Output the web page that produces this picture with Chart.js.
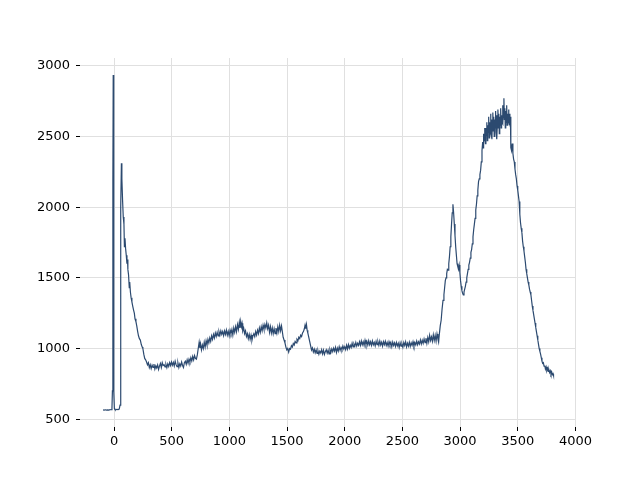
<!DOCTYPE html>
<html>
<head>
<meta charset="utf-8">
<script src="https://cdn.jsdelivr.net/npm/chart.js@4.4.0/dist/chart.umd.min.js"></script>
<style>
  html, body { margin: 0; padding: 0; background: #fff; }
</style>
</head>
<body>
<canvas id="spectrum" width="640" height="480"></canvas>
<script>
// raman shift (x) and intensity (y)
var ramanShift = [
  -95,-85,-75,-65,-55,-45,-35,-25,-18,
  -14,-10,-7,-4,-1,3,8,15,25,35,
  45,52,56,60,64,68,74,80,86,90,
  95,100,106,112,117,120,126,132,136,142,
  148,155,162,170,176,182,190,197,205,212,
  220,228,236,244,250,258,266,274,282,290,
  298,306,314,322,330,338,346,354,362,370,
  378,386,394,402,410,418,426,434,442,450,
  458,466,474,482,490,498,506,514,522,530,
  538,546,554,562,570,578,586,594,602,610,
  618,626,634,642,650,658,666,674,682,690,
  698,706,714,722,
  730,738,744,750,758,766,774,782,790,798,
  806,814,822,830,838,846,854,862,870,878,
  886,894,902,910,918,926,934,942,950,958,
  966,974,982,990,998,1006,1014,1022,1030,1038,
  1046,1054,1062,1070,1078,1086,1092,1098,1104,1110,
  1116,1124,1132,1140,1148,1156,1164,1172,1180,1188,
  1196,1204,1212,1220,1228,1236,1244,1252,1260,1268,
  1276,1284,1292,1300,1308,1316,1324,1332,1340,1348,
  1356,1364,1372,1380,1388,1396,1404,1412,1420,1428,
  1436,1444,1452,1460,
  1466,1474,1482,1490,1498,1506,1514,1522,1530,1538,
  1546,1554,1562,1570,1578,1586,1594,1602,1610,1618,
  1626,1634,1642,1650,1656,1662,1668,1674,1680,1688,
  1696,1704,1712,1720,1728,1736,1744,1752,1760,1768,
  1776,1784,1792,1800,1808,1816,1824,1832,1840,1848,
  1856,1864,1872,1880,1888,1896,1904,1912,1920,1928,
  1936,1944,1952,1960,1968,1976,1984,1992,2000,2008,
  2016,2024,2032,2040,2048,2056,2064,2072,2080,2088,
  2096,2104,2112,2120,2128,2136,2144,2152,2160,2168,
  2176,2184,2192,2200,2208,2216,2224,2232,2240,2248,
  2256,2264,2272,2280,2288,2296,2304,2312,2320,2328,
  2336,2344,2352,2360,2368,2376,2384,2392,2400,2408,
  2416,2424,2432,2440,2448,2456,2464,2472,2480,2488,
  2496,2504,2512,2520,2528,2536,2544,2552,2560,2568,
  2576,2584,2592,2600,2608,2616,2624,2632,2640,2648,
  2656,2664,2672,2680,2688,2696,2704,2712,2720,2728,
  2736,2744,2752,2760,2768,2776,2784,2792,2800,2808,
  2814,2820,2828,2836,2844,2852,2860,2866,2872,2878,
  2884,2890,2896,2902,2908,2914,2920,2926,2932,2938,
  2944,2950,2956,2962,2968,2974,2980,2986,2992,2998,
  3004,3010,3016,3022,3028,3034,3040,3046,3052,3058,
  3064,3070,3076,3082,3088,3094,3100,3106,3112,3118,
  3124,3130,3136,3142,3148,3154,3160,3166,3172,3178,
  3184,3190,3196,
  3200,3204,3208,3212,3216,3220,3224,3228,3232,3236,
  3240,3244,3248,3252,3256,3260,3264,3268,3272,3276,
  3280,3284,3288,3292,3296,3300,3304,3308,3312,3316,
  3320,3324,3328,3332,3336,3340,3344,3348,3352,3356,
  3360,3364,3368,3372,3376,3380,3384,3388,3392,3396,
  3400,3404,3408,3412,3416,3420,3424,3428,3432,3436,
  3440,3446,3452,3458,3464,3470,3476,3482,3488,3494,
  3500,3506,3512,3518,3524,3530,3536,3542,3548,3554,
  3560,3566,3572,3578,3584,3590,3596,3602,3608,3614,
  3620,3626,3632,3638,3644,3650,3656,3662,3668,3674,
  3680,3686,3692,3698,3704,3710,3716,3722,3728,3734,
  3740,3746,3752,3758,3764,3770,3776,3782,3788,3794,
  3800,3806,3810
];

var intensity = [
  566,564,567,565,566,564,568,567,575,
  700,2200,2935,2100,700,575,568,566,570,568,
  572,600,1200,2000,2310,2200,2050,1930,1880,1720,
  1780,1710,1660,1600,1630,1560,1520,1430,1470,1400,
  1360,1330,1300,1270,1250,1210,1190,1160,1120,1090,
  1070,1060,1030,1010,1000,960,930,920,905,885,
  900,865,885,858,882,866,890,855,878,862,
  884,852,876,895,866,900,880,885,870,888,
  865,892,874,900,880,905,882,902,876,910,
  886,872,898,866,892,876,905,880,866,900,
  910,888,920,896,925,905,935,912,945,920,
  950,930,925,955,
  1000,1045,1005,1035,990,1025,1000,1045,1010,1055,
  1025,1065,1040,1075,1050,1090,1065,1100,1075,1110,
  1085,1115,1090,1120,1095,1125,1100,1120,1092,1125,
  1100,1130,1095,1122,1090,1130,1105,1135,1095,1145,
  1115,1155,1120,1170,1135,1185,1145,1192,1155,1178,
  1125,1145,1105,1125,1085,1105,1070,1100,1065,1095,
  1060,1090,1105,1085,1120,1095,1130,1105,1145,1115,
  1155,1125,1165,1135,1170,1145,1182,1140,1165,1115,
  1155,1110,1145,1105,1140,1105,1145,1110,1155,1120,
  1165,1125,1160,1115,
  1080,1060,1040,1010,990,1000,975,1000,995,1020,
  1010,1035,1025,1050,1040,1065,1055,1080,1070,1095,
  1085,1110,1120,1140,1165,1140,1170,1130,1110,1080,
  1050,1020,990,1005,975,995,970,990,965,985,
  960,982,968,992,962,988,958,978,992,968,
  988,962,993,972,998,978,1003,982,1008,972,
  1003,982,1013,987,1008,992,1018,997,1013,992,
  1023,997,1028,1002,1023,1007,1038,1012,1033,1017,
  1043,1017,1038,1022,1048,1022,1053,1027,1048,1022,
  1058,1027,1051,1025,1055,1027,1048,1022,1053,1027,
  1043,1019,1051,1027,1048,1022,1053,1025,1045,1017,
  1048,1027,1051,1022,1043,1017,1048,1025,1043,1012,
  1045,1022,1041,1015,1043,1019,1038,1007,1041,1017,
  1033,1009,1043,1022,1048,1012,1038,1017,1045,1015,
  1041,1022,1048,1017,1043,1025,1053,1027,1048,1032,
  1061,1032,1058,1037,1068,1042,1073,1037,1078,1047,
  1093,1057,1083,1052,1098,1057,1093,1052,1103,1067,
  1045,1100,1160,1200,1280,1340,1380,1430,1480,1500,
  1530,1560,1555,1600,1650,1720,1790,1880,1960,2020,
  1960,1880,1800,1720,1660,1600,1580,1560,1590,1540,
  1480,1440,1410,1390,1380,1400,1420,1440,1470,1500,
  1530,1560,1590,1610,1640,1680,1700,1740,1790,1840,
  1880,1920,1980,2020,2080,2120,2180,2200,2230,2260,
  2320,2400,2460,
  2420,2520,2470,2560,2500,2450,2560,2510,2600,2470,
  2580,2530,2640,2490,2600,2540,2660,2520,2620,2480,
  2600,2670,2540,2640,2500,2620,2560,2680,2530,2650,
  2480,2600,2690,2560,2660,2520,2640,2580,2700,2560,
  2650,2600,2720,2590,2680,2770,2620,2700,2560,2680,
  2600,2720,2580,2660,2620,2690,2600,2660,2580,2640,
  2420,2400,2450,2380,2340,2320,2270,2230,2200,2150,
  2120,2080,2040,1950,1890,1850,1820,1760,1720,1690,
  1650,1610,1560,1530,1500,1470,1450,1420,1400,1380,
  1340,1300,1270,1240,1210,1180,1150,1120,1090,1060,
  1030,1000,980,960,935,910,895,900,875,880,
  855,870,845,860,838,850,830,842,820,835,
  815,822,810
];

var xTicks = [0, 500, 1000, 1500, 2000, 2500, 3000, 3500, 4000];
var yTicks = [500, 1000, 1500, 2000, 2500, 3000];

window.onload = main;

function main() {
    var points = ramanShift.map(function (x, i) {
        return { x: x, y: intensity[i] };
    });

    var tickFont = { family: "DejaVu Sans", size: 13 };
    var plain = function (value) { return String(value); };

    new Chart(document.getElementById("spectrum"), {
        type: "scatter",
        data: {
            datasets: [
                {
                    data: points,
                    showLine: true,
                    borderColor: "#2c4a70",
                    borderWidth: 1.2,
                    pointRadius: 0,
                    tension: 0
                }
            ]
        },
        options: {
            responsive: false,
            animation: false,
            devicePixelRatio: 1,
            layout: { padding: { top: 58, right: 64, left: 0, bottom: 0 } },
            plugins: {
                legend: { display: false },
                tooltip: { enabled: false }
            },
            scales: {
                x: {
                    type: "linear",
                    min: -295,
                    max: 4005,
                    afterBuildTicks: function (scale) {
                        scale.ticks = xTicks.map(function (v) { return { value: v }; });
                    },
                    afterFit: function (scale) { scale.height = 53; },
                    border: { display: false },
                    grid: { color: "#e0e0e0", lineWidth: 1, tickColor: "#000", tickLength: 4 },
                    ticks: { color: "#000", font: tickFont, padding: 3, maxRotation: 0, callback: plain }
                },
                y: {
                    type: "linear",
                    min: 445,
                    max: 3055,
                    afterBuildTicks: function (scale) {
                        scale.ticks = yTicks.map(function (v) { return { value: v }; });
                    },
                    afterFit: function (scale) { scale.width = 80; },
                    border: { display: false },
                    grid: { color: "#e0e0e0", lineWidth: 1, tickColor: "#000", tickLength: 4 },
                    ticks: { color: "#000", font: tickFont, padding: 6, callback: plain }
                }
            }
        }
    });
}
</script>
</body>
</html>
